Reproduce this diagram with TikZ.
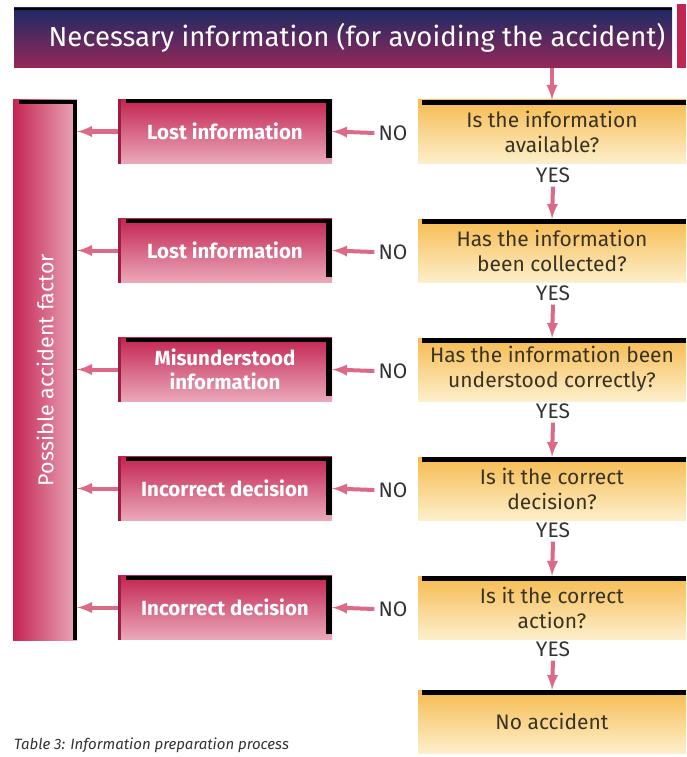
\documentclass[tikz,border=0pt]{standalone}
\usepackage{fontspec}
\setmainfont{Fira Sans}
\usetikzlibrary{calc,arrows}

\definecolor{navy}{HTML}{1B2A66}
\definecolor{plum}{HTML}{962858}
\definecolor{crimson}{HTML}{C42452}
\definecolor{rose}{HTML}{EAA9BA}
\definecolor{amber}{HTML}{F6BB50}
\definecolor{cream}{HTML}{FDEFCB}
\definecolor{arrowpink}{HTML}{DC6A86}
\definecolor{inkbrown}{HTML}{3B3322}

\tikzset{
  titlebar/.style={minimum width=658pt,minimum height=60pt,inner sep=0pt,top color=navy,bottom color=plum,text=white,font=\fontsize{27.5}{30}\selectfont,
    path picture={\fill[black] ([yshift=-2pt]path picture bounding box.north west) rectangle (path picture bounding box.north east);}},
  factorbar/.style={minimum width=64pt,minimum height=540pt,inner sep=0pt,left color=crimson,right color=rose,text=white,font=\fontsize{21.5}{24}\selectfont,
    path picture={\fill[black] ([xshift=6pt,yshift=-4pt]path picture bounding box.north west) rectangle (path picture bounding box.north east);
                  \fill[black] ([xshift=-4pt]path picture bounding box.north east) rectangle (path picture bounding box.south east);}},
  factorbox/.style={minimum width=214pt,minimum height=64pt,inner sep=0pt,top color=crimson,bottom color=rose,text=white,align=center,font=\bfseries\fontsize{20.5}{24}\selectfont,
    path picture={\fill[black] ([xshift=8pt,yshift=-4pt]path picture bounding box.north west) rectangle (path picture bounding box.north east);
                  \fill[black] ([xshift=-6pt]path picture bounding box.north east) rectangle ([yshift=6pt]path picture bounding box.south east);
                  \fill[crimson!80!black] (path picture bounding box.north west) rectangle ([xshift=3pt]path picture bounding box.south west);}},
  questionbox/.style={minimum width=268pt,minimum height=63pt,inner sep=0pt,top color=amber,bottom color=cream,text=inkbrown,align=center,font=\fontsize{21}{25}\selectfont,
    path picture={\fill[black] ([xshift=4pt,yshift=-5pt]path picture bounding box.north west) rectangle (path picture bounding box.north east);}},
  answer/.style={inner sep=4pt,text=black!80,font=\fontsize{21}{21}\selectfont},
  flow/.style={draw=arrowpink,line width=4pt,-latex},
}

\begin{document}
\begin{tikzpicture}[x=1pt,y=-1pt]
\useasboundingbox (0,0) rectangle (686,757);
\fill[crimson] (677,4) rectangle (686,68);
\node[titlebar] (title) at (343,38) {\hspace*{28pt}Necessary information (for avoiding the accident)};
\node[factorbar] (bar) at (45,370) {\rotatebox{90}{Possible accident factor}};

\node[factorbox] (f1) at (225,131.5) {Lost information};
\node[factorbox] (f2) at (225,250.5) {Lost information};
\node[factorbox] (f3) at (225,369.5) {Misunderstood\\information};
\node[factorbox] (f4) at (225,488.5) {Incorrect decision};
\node[factorbox] (f5) at (225,607.5) {Incorrect decision};

\node[questionbox] (q1) at (552,131.5) {Is the information\\available?};
\node[questionbox] (q2) at (552,250.5) {Has the information\\been collected?};
\node[questionbox] (q3) at (552,369.5) {Has the information been\\understood correctly?};
\node[questionbox] (q4) at (552,488.5) {Is it the correct\\decision?};
\node[questionbox] (q5) at (552,607.5) {Is it the correct\\action?};
\node[questionbox] (q6) at (552,721.5) {No accident};

\node[answer] (n1) at (393,133) {NO};
\node[answer] (n2) at (393,252) {NO};
\node[answer] (n3) at (393,371) {NO};
\node[answer] (n4) at (393,490) {NO};
\node[answer] (n5) at (393,609) {NO};

\node[answer] (y1) at (553,175) {YES};
\node[answer] (y2) at (553,293) {YES};
\node[answer] (y3) at (553,411) {YES};
\node[answer] (y4) at (553,530) {YES};
\node[answer] (y5) at (553,649) {YES};

\draw[flow] (q1.north |- title.south) -- (q1.north);
\draw[flow] (y1.south) -- (q2.north);
\draw[flow] (y2.south) -- (q3.north);
\draw[flow] (y3.south) -- (q4.north);
\draw[flow] (y4.south) -- (q5.north);
\draw[flow] (y5.south) -- (q6.north);

\draw[flow] (n1.west) -- (f1.east);
\draw[flow] (n2.west) -- (f2.east);
\draw[flow] (n3.west) -- (f3.east);
\draw[flow] (n4.west) -- (f4.east);
\draw[flow] (n5.west) -- (f5.east);

\draw[flow] (f1.west) -- (f1.west -| bar.east);
\draw[flow] (f2.west) -- (f2.west -| bar.east);
\draw[flow] (f3.west) -- (f3.west -| bar.east);
\draw[flow] (f4.west) -- (f4.west -| bar.east);
\draw[flow] (f5.west) -- (f5.west -| bar.east);

\node[anchor=west,inner sep=0pt,text=black!80,font=\itshape\fontsize{15}{16}\selectfont] (caption) at (14,745) {Table 3: Information preparation process};
\end{tikzpicture}
\end{document}
